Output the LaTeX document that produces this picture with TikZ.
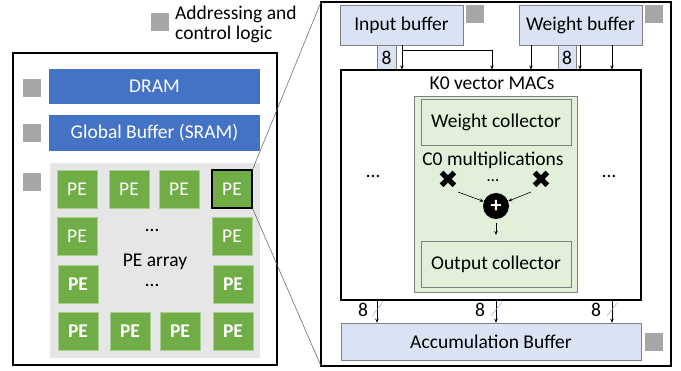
\documentclass[tikz,border=0pt]{standalone}
\usepackage{fontspec}
\setmainfont{Carlito}
\newfontfamily\djv{DejaVu Sans}
\usetikzlibrary{arrows.meta}
\definecolor{sqgray}{HTML}{A6A6A6}
\definecolor{barblue}{HTML}{4472C4}
\definecolor{pegreen}{HTML}{70AD47}
\definecolor{pebord}{HTML}{A9CF8F}
\definecolor{lbuf}{HTML}{DAE3F3}
\definecolor{lgreen}{HTML}{E2F0D9}
\definecolor{arraybg}{HTML}{E7E6E6}
\definecolor{slashblue}{HTML}{8FAADC}
\tikzset{
  txt/.style={font=\fontsize{19.5}{20}\selectfont},
  sq/.style={fill=sqgray, minimum width=18pt, minimum height=18pt, inner sep=0pt},
  bar/.style={fill=barblue, text=white, minimum width=211pt, minimum height=35pt, inner sep=0pt, txt},
  pe/.style={fill=pegreen, draw=pebord, line width=0.4pt, text=white, minimum width=40pt, minimum height=38pt, inner sep=0pt, txt},
  peb/.style={pe, font=\fontsize{19.5}{20}\selectfont\bfseries},
  buf/.style={fill=lbuf, draw=gray, line width=0.5pt, inner sep=0pt, txt},
  coll/.style={draw=gray, line width=0.6pt, minimum width=150pt, minimum height=46pt, inner sep=0pt, txt},
  arr/.style={-{Stealth[length=4pt,width=3.5pt]}, line width=0.6pt},
  zoomln/.style={draw=black!65, line width=0.5pt},
  slash/.style={draw=slashblue, line width=0.5pt},
  frame/.style={draw=black, line width=1.1pt},
  mul/.style={font=\djv\fontsize{25}{25}\selectfont, inner sep=0pt},
}
\begin{document}
\begin{tikzpicture}[x=1pt,y=-1pt]
\useasboundingbox (0,0) rectangle (681,371);
% ---- left part
\node[sq] (sqa) at (159.5,22.5) {};
\node[txt, anchor=west, align=left, inner sep=0pt] (addr) at (175,24) {Addressing and\\control logic};
\draw[frame] (13,53) rectangle (277,365);
\node[bar] (dram) at (154.5,86.5) {DRAM};
\node[sq] (sq1) at (31.5,88.5) {};
\node[bar, minimum height=36pt] (glb) at (154.5,133) {Global Buffer (SRAM)};
\node[sq] (sq2) at (31.5,133.5) {};
\node[fill=arraybg, minimum width=210pt, minimum height=195pt, inner sep=0pt] (arr) at (155,260.5) {};
\node[sq] (sq3) at (31.5,182.5) {};
\node[pe] (p11) at (77,189) {PE};
\node[pe] (p12) at (129,189) {PE};
\node[pe] (p13) at (179,189) {PE};
\node[pe, draw=black, line width=1.3pt] (p14) at (232,189) {PE};
\node[pe] (p21) at (77,236) {PE};
\node[pe] (p24) at (232,236) {PE};
\node[peb] (p31) at (78,284) {PE};
\node[peb] (p34) at (233,284) {PE};
\node[peb] (p41) at (78,331) {PE};
\node[peb] (p42) at (130,331) {PE};
\node[peb] (p43) at (180,331) {PE};
\node[peb] (p44) at (233,331) {PE};
\node[txt] (dots1) at (152,230) {…};
\node[txt] (pearr) at (155,262) {PE array};
\node[txt] (dots2) at (152,285) {…};
% ---- right part
\draw[frame] (321,2) rectangle (671,366);
\coordinate (rbtl) at (321,2);
\coordinate (rbbl) at (321,366);
\draw[zoomln] (p14.north east) -- (rbtl);
\draw[zoomln] (p14.south east) -- (rbbl);
\node[buf, minimum width=123pt, minimum height=40pt] (inb) at (401.5,25) {Input buffer};
\node[sq] (sqi) at (474.5,14) {};
\node[buf, minimum width=123pt, minimum height=40pt] (wb) at (580.5,25) {Weight buffer};
\node[sq] (sqw) at (653.5,14) {};
\node[buf, minimum width=19pt, minimum height=25pt] (n8a) at (386.5,57.5) {8};
\node[buf, minimum width=18pt, minimum height=25pt] (n8b) at (567,57.5) {8};
\node[draw=black, line width=1.1pt, minimum width=300pt, minimum height=230pt, inner sep=0pt] (mac) at (491,185) {};
\node[txt] (k0) at (492,83) {K0 vector MACs};
\node[fill=lgreen, draw=gray, line width=0.5pt, minimum width=163pt, minimum height=196pt, inner sep=0pt] (grn) at (495.5,194) {};
\node[coll] (wc) at (496,122) {Weight collector};
\node[txt, inner sep=0pt] (c0) at (493,160) {C0 multiplications};
\node[mul] (x1) at (448,180) {✖};
\node[mul] (x2) at (541,180) {✖};
\node[font=\fontsize{17}{17}\selectfont, inner sep=0pt] (dm) at (493,181) {…};
\node[txt] (dl) at (373,176) {…};
\node[txt] (dr) at (609,176) {…};
\node[circle, fill=black, text=white, minimum size=26pt, inner sep=0pt, font=\fontsize{22}{22}\selectfont\bfseries] (plus) at (496,206) {+};
\node[coll] (oc) at (496,264) {Output collector};
\node[buf, minimum width=300pt, minimum height=37pt] (acc) at (491,341.5) {Accumulation Buffer};
\node[sq] (sqacc) at (654,342) {};
% arrows top
\draw[arr] (inb.south -| 402,0) -- (mac.north -| 402,0);
\coordinate (br) at (402,50);
\coordinate (brr) at (492,50);
\draw[arr] (br) -- (brr) -- (mac.north -| brr);
\draw[arr] (wb.south -| 531,0) -- (mac.north -| 531,0);
\draw[arr] (wb.south -| 580,0) -- (mac.north -| 580,0);
\draw[arr] (wb.south -| 612,0) -- (mac.north -| 612,0);
% inner arrows
\coordinate (xa) at (458,192);
\coordinate (xb) at (531,192);
\draw[arr] (xa) -- (plus);
\draw[arr] (xb) -- (plus);
\coordinate (pa) at (496,223);
\coordinate (pb) at (496,235);
\draw[arr] (pa) -- (pb);
% bottom arrows
\foreach \xx in {377,496,612}{
  \draw[arr] (mac.south -| \xx,0) -- (acc.north -| \xx,0);
  \draw[slash] (\xx-5,316) -- (\xx+6,302);
}
\node[txt] (b8a) at (363,310) {8};
\node[txt] (b8b) at (480,310) {8};
\node[txt] (b8c) at (596,310) {8};
\end{tikzpicture}
\end{document}
